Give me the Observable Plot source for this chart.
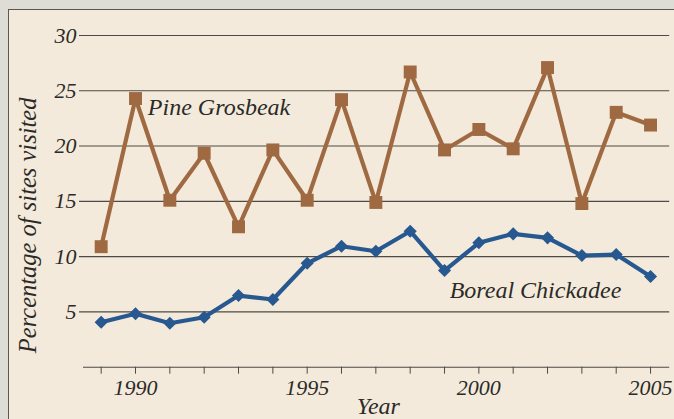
<!DOCTYPE html>
<html>
<head>
<meta charset="utf-8">
<script src="https://cdn.jsdelivr.net/npm/d3@7"></script>
<script src="https://cdn.jsdelivr.net/npm/@observablehq/plot@0.6"></script>
<style>
  html, body { margin: 0; padding: 0; }
  body { width: 674px; height: 419px; overflow: hidden; background: #dddcd5; position: relative; }
  #panel { position: absolute; left: 8px; top: 9px; width: 700px; height: 450px; background: #f3eadb;
           border-left: 1.5px solid #5a5650; border-top: 1.5px solid #5a5650; }
  #chart { position: absolute; left: 0; top: 0; }
</style>
</head>
<body>
<div id="panel"></div>
<div id="chart"></div>
<script>
const years = [1989,1990,1991,1992,1993,1994,1995,1996,1997,1998,1999,2000,2001,2002,2003,2004,2005];
const pineGrosbeak = [10.9,24.3,15.1,19.35,12.7,19.65,15.1,24.2,14.9,26.7,19.65,21.5,19.75,27.1,14.8,23.05,21.9];
const borealChickadee = [4.07,4.83,3.98,4.52,6.48,6.12,9.4,10.94,10.49,12.3,8.74,11.25,12.06,11.7,10.1,10.19,8.2];
const yTicks = [5,10,15,20,25,30];
const xTickLabels = [1990,1995,2000,2005];
const seriesNames = ["Pine Grosbeak","Boreal Chickadee"];
const seriesLabelX = [1990.36, 1999.15];
const seriesLabelY = [23.52, 6.97];
const axisTitleX = "Year";
const axisTitleY = "Percentage of sites visited";

const brown = "#9f6a42";
const blue = "#275890";
const ink = "#2b2a28";
const gridColor = "#4e4a45";

const pine = years.map((x, i) => ({x, y: pineGrosbeak[i]}));
const boreal = years.map((x, i) => ({x, y: borealChickadee[i]}));
const labels = seriesNames.map((name, i) => ({name, x: seriesLabelX[i], y: seriesLabelY[i]}));

const chart = Plot.plot({
  width: 674,
  height: 419,
  marginLeft: 83.5,
  marginRight: 6.8,
  marginTop: 35,
  marginBottom: 52.3,
  style: {background: "transparent", fontFamily: "'Liberation Serif', 'Times New Roman', serif", fontStyle: "italic", fontSize: "22px", color: ink},
  x: {domain: [1988.5, 2005.5], type: "linear"},
  y: {domain: [0, 30]},
  marks: [
    Plot.ruleY(yTicks, {stroke: gridColor, strokeWidth: 1.1, insetLeft: -4.5, insetRight: -2}),
    Plot.ruleY([0], {stroke: gridColor, strokeWidth: 1.1, insetLeft: -0.5, insetRight: -2}),
    Plot.axisY(yTicks, {tickSize: 0, tickPadding: 7.5, label: null, fontSize: 22, tickFormat: d => String(d)}),
    Plot.axisX(years, {tickSize: 7, tickFormat: () => "", label: null, stroke: gridColor}),
    Plot.axisX(xTickLabels, {tickSize: 0, tickPadding: 12, label: null, fontSize: 22, tickFormat: d => String(d)}),
    Plot.line(pine, {x: "x", y: "y", stroke: brown, strokeWidth: 4.2}),
    Plot.dot(pine, {x: "x", y: "y", symbol: "square", r: 7.3, fill: brown, stroke: null}),
    Plot.line(boreal, {x: "x", y: "y", stroke: blue, strokeWidth: 4.2}),
    Plot.dot(boreal, {x: "x", y: "y", symbol: "diamond2", r: 5.9, fill: blue, stroke: null}),
    Plot.text(labels, {x: "x", y: "y", text: "name", textAnchor: "start", lineAnchor: "middle", fontSize: 24, fill: ink}),
    Plot.text([axisTitleY], {frameAnchor: "left", textAnchor: "middle", lineAnchor: "middle", rotate: -90, dx: -55.5, dy: 24, fontSize: 24.5, fill: ink}),
    Plot.text([axisTitleX], {frameAnchor: "bottom", textAnchor: "middle", lineAnchor: "middle", dx: 2.5, dy: 39, fontSize: 24, fill: ink})
  ]
});
document.getElementById("chart").appendChild(chart);
</script>
</body>
</html>
